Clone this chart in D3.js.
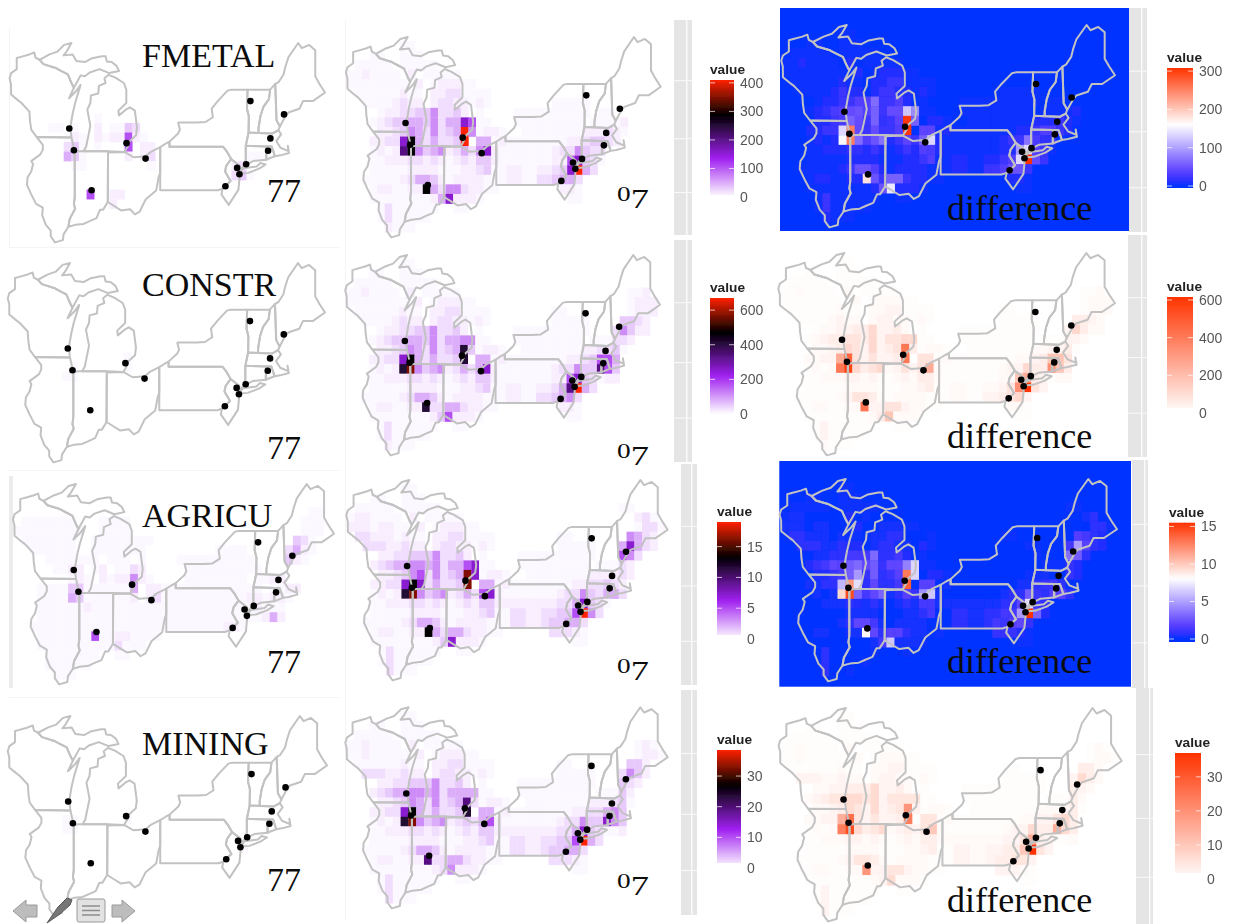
<!DOCTYPE html>
<html>
<head>
<meta charset="utf-8">
<script src="https://d3js.org/d3.v7.min.js"></script>
<style>
  html, body { margin: 0; padding: 0; background: #fff; }
  svg { display: block; }
</style>
</head>
<body>
<div id="chart"></div>
<script>
// Grid is 0.625 x 0.5 degrees. Each string is one row from north to south, one char per cell.
// Chars are shade levels, levelShare turns them into a share of the panel's maximum.
const levelShare = { ".": 0, "1": .01, "2": .025, "3": .05, "4": .08, "5": .12, "6": .17, "7": .26, "8": .38, "9": .5, a: .62, b: .7, c: .85, d: 1 };

const fmetal77 = ["", "", "", "", "", "", "", "",
  "............1",
  "......11.1..2.1143",
  "........121.2122721",
  "........341.1...7.22",
  "........541.....2.23............111",
  ".........11........1..........23",
  "..............................341",
  "",
  "...........7..22",
  "..............2"];
const fmetal07 = ["",
  "........11",
  "....11..111",
  "..11111.11111",
  ".1121111.2.11111",
  ".11111111.2.122211",
  "..111111211.22331111",
  "...11112322.23322121........11111",
  ".....122334463342.1....1111111111.11",
  "....1234455463558711...111111111.11112",
  ".....22346536345d61221..11111111222321",
  "....22338b535334d.5512111111112234432",
  "....12129b6456235368211111112336433",
  "....1122233232123244211111112278431",
  "....111112222111223411221122348d53",
  "...11111235542122221112211334553",
  "....1221122b536632211........221",
  "....111111112582221...........11",
  ".....13111111..11",
  ".....1311111",
  "......2111"];

const constr77 = ["", "", "", "", "", "", "", "", "", "",
  "................1",
  ".........1......1",
  "........11"];
const constr07 = ["",
  "........11",
  "....11..111",
  "..11111.11111",
  ".1121111.2.11111......................112",
  ".11111111.2.122211....................1222",
  "..111111211.22331111........11........1222",
  "...11112322.23322121........11111....4432",
  ".....122334463342.1....1111111111...36422",
  "....1234455463556611...111111111.111332",
  ".....22346536345a41221..11111111223341",
  "....22338b535334a.5512111111112234775",
  "....1212ac645623535821111111233644974",
  "....112223323212324421111111227843122",
  "....111112222111223411221122359d53",
  "...11111235542122221112211334563",
  "....1221122a335532211........221",
  "....111111112472221...........11",
  ".....13111111..11",
  ".....1311111",
  "......2111"];

const agricu77 = ["", "", "",
  ".......................................11",
  "..1111111...1111......................111",
  ".111111111..1111......................111",
  "..1111111..11111111..................431",
  "...111111..1111111.........1111.....3521",
  ".....1111111.111.1....1111111111....421",
  "......1122.12.1132.....1111111111",
  "........121.2122621....11111111.1122",
  "....1111441111115.221111111111111.1122",
  "....1111541111112.2311111111111221221",
  "....11111121111111111111111111112111",
  "....11111111111111111111111111111252",
  "...1111111111111111111111111221",
  "....1111111711221111",
  "....11111111113111",
  ".....1111111..11",
  ".....111111",
  "......111"];
const agricu07 = ["",
  "........11",
  "....11..111",
  "..11111.11111.......................11",
  ".1221111.2.11111......................231",
  ".22212211.2.122211....................1331",
  "..332221211.22331111........11.......6532",
  "...33322322.23322121........11111...58532",
  ".....223344463342.1....1111111111...763",
  "....2345566563557811...111111111.11132",
  ".....22346736345c81221..11111111222232",
  "....22338b835334c.5512111111112233432",
  "....1212ac645623537821111111233643553",
  "....1122233232123244222222223358431",
  "....111112222111223411332233447d63",
  "...11111235542122221113322344553",
  "....1221122b535532211......33321",
  "....111111112482221...........11",
  ".....13111111..11",
  ".....1311111",
  "......3111"];

const mining77 = ["", "", "", "", "", "", "", "", "", "", "",
  "........11......1",
  "........11",
  "",
  "...............................1"];
const mining07 = ["",
  "........11",
  "....11..111",
  "..11111.11111",
  ".1121111.2.11111......................121",
  ".11211111.2.122211....................1221",
  "..111111211.22331111........11.......442",
  "...33322322.23322121........11111...3642",
  ".....223344463342.1....1111111111...432",
  "....2345566563555511...111111111.11142",
  ".....22346536345931221..11111111222341",
  "....22338b535334a.5512111111112233564",
  "....1212ac645623435721111111233644864",
  "....112223323212324422222222335843112",
  "....111112222111223411332233447d53",
  "...11111235542122221113322344553",
  "....12211229335532211......33321",
  "....111111112362221...........11",
  ".....13111111..11",
  ".....1311111",
  "......3111"];

// top of each colour bar
const maxValues07 = [410, 670, 19, 38.5];
const maxValuesDiff = [308, 616, 15.5, 37];
const ticks07 = [[0, 100, 200, 300, 400], [0, 200, 400, 600], [0, 5, 10, 15], [0, 10, 20, 30]];
const ticksDiff = [[0, 100, 200, 300], [0, 200, 400, 600], [0, 5, 10, 15], [0, 10, 20, 30]];
const sectorNames = ["FMETAL", "CONSTR", "AGRICU", "MINING"];
const diffOnBlue = [true, false, true, false];

// lon, lat
const cities = [[-87.98, 42.96], [-87.6, 41.82], [-83.28, 42.19], [-81.72, 41.38], [-86.15, 39.72], [-73.12, 44.4],
  [-70.36, 43.7], [-71.48, 42.44], [-71.67, 41.79], [-73.47, 41.08], [-74.21, 40.89], [-74.02, 40.56], [-75.17, 39.93]];

const wisconsin = [[-92.02, 46.71], [-92.29, 46.66], [-92.29, 46.08], [-92.75, 45.87], [-92.88, 45.6], [-92.76, 45.3], [-92.75, 44.75], [-92.2, 44.45], [-91.9, 44.3], [-91.25, 43.85], [-91.2, 43.35], [-91.1, 42.9], [-90.65, 42.51], [-87.8, 42.49], [-87.9, 43.0], [-87.7, 43.75], [-87.5, 44.3], [-87.05, 45.25], [-87.45, 44.9], [-88.0, 44.55], [-87.6, 45.1], [-87.8, 45.35], [-88.1, 45.8], [-88.7, 46.0], [-89.1, 46.14], [-90.1, 46.34], [-90.42, 46.57], [-90.75, 46.68], [-90.85, 46.95], [-91.25, 46.85]];
const michiganUpper = [[-90.42, 46.57], [-89.6, 46.85], [-88.95, 47.0], [-88.4, 47.35], [-87.8, 47.45], [-88.2, 47.0], [-88.45, 46.8], [-87.7, 46.85], [-87.4, 46.5], [-86.7, 46.45], [-86.1, 46.65], [-85.3, 46.75], [-85.0, 46.75], [-84.9, 46.48], [-84.5, 46.45], [-84.1, 46.25], [-83.9, 45.98], [-84.7, 45.87], [-85.5, 46.08], [-86.3, 45.9], [-86.7, 45.7], [-87.05, 45.75], [-87.6, 45.1], [-87.8, 45.35], [-88.1, 45.8], [-88.7, 46.0], [-89.1, 46.14], [-90.1, 46.34]];
const michiganLower = [[-84.75, 45.78], [-85.1, 45.6], [-85.0, 45.35], [-85.55, 45.2], [-85.6, 44.8], [-86.2, 44.7], [-86.25, 44.3], [-86.5, 43.95], [-86.25, 43.1], [-86.6, 42.0], [-86.82, 41.76], [-84.8, 41.76], [-83.45, 41.73], [-83.15, 42.05], [-83.1, 42.25], [-82.5, 42.6], [-82.42, 43.0], [-82.6, 43.9], [-83.0, 44.07], [-83.35, 43.95], [-83.9, 43.65], [-83.95, 43.9], [-83.3, 44.3], [-83.3, 45.0], [-83.5, 45.35], [-84.2, 45.63]];
const illinois = [[-90.65, 42.51], [-87.8, 42.49], [-87.53, 41.71], [-87.53, 39.35], [-87.6, 39.0], [-87.5, 38.75], [-87.95, 38.2], [-88.05, 37.8], [-88.45, 37.4], [-88.5, 37.1], [-89.15, 36.98], [-89.5, 37.3], [-89.5, 37.6], [-89.9, 37.9], [-90.2, 38.4], [-90.15, 38.8], [-90.7, 39.0], [-91.1, 39.5], [-91.45, 40.0], [-91.4, 40.4], [-91.1, 40.7], [-90.95, 41.1], [-91.1, 41.25], [-90.35, 41.6], [-90.15, 41.85], [-90.15, 42.1]];
const indiana = [[-87.53, 41.71], [-87.2, 41.76], [-86.82, 41.76], [-84.8, 41.76], [-84.82, 39.1], [-85.2, 38.7], [-85.45, 38.7], [-85.75, 38.25], [-86.3, 38.1], [-86.8, 37.95], [-87.5, 37.9], [-88.05, 37.8], [-87.95, 38.2], [-87.5, 38.75], [-87.6, 39.0], [-87.53, 39.35]];
const ohio = [[-84.8, 41.7], [-83.45, 41.73], [-82.7, 41.45], [-81.7, 41.5], [-81.25, 41.75], [-80.52, 41.98], [-80.52, 40.64], [-80.65, 40.4], [-80.85, 39.7], [-81.7, 39.25], [-82.2, 38.6], [-82.6, 38.45], [-83.0, 38.72], [-83.7, 38.65], [-84.2, 38.85], [-84.82, 39.1]];
const pennsylvania = [[-80.52, 41.98], [-80.08, 42.16], [-79.76, 42.27], [-79.76, 42.0], [-75.35, 42.0], [-75.05, 41.75], [-74.7, 41.36], [-75.1, 41.0], [-75.2, 40.7], [-74.75, 40.2], [-75.4, 39.8], [-75.8, 39.72], [-80.52, 39.72]];
const newYork = [[-79.76, 42.27], [-79.05, 42.7], [-78.9, 42.9], [-79.05, 43.27], [-77.5, 43.27], [-76.8, 43.3], [-76.2, 43.55], [-76.3, 44.0], [-75.8, 44.4], [-75.0, 44.95], [-74.7, 45.0], [-73.35, 45.0], [-73.4, 44.0], [-73.25, 43.6], [-73.27, 42.75], [-73.5, 42.05], [-73.5, 41.3], [-73.65, 41.0], [-74.0, 40.75], [-74.0, 41.0], [-74.7, 41.36], [-75.05, 41.75], [-75.35, 42.0], [-79.76, 42.0]];
const longIsland = [[-74.0, 40.6], [-73.7, 40.87], [-72.6, 40.97], [-72.3, 41.15], [-71.87, 41.07], [-72.4, 40.85], [-73.3, 40.63]];
const vermont = [[-73.35, 45.0], [-71.5, 45.0], [-71.6, 44.5], [-72.05, 44.1], [-72.3, 43.6], [-72.45, 43.0], [-72.46, 42.73], [-73.27, 42.75], [-73.25, 43.6], [-73.4, 44.0]];
const newHampshire = [[-71.5, 45.0], [-71.08, 45.3], [-70.98, 43.4], [-70.7, 43.07], [-70.82, 42.87], [-71.3, 42.7], [-72.46, 42.73], [-72.45, 43.0], [-72.3, 43.6], [-72.05, 44.1], [-71.6, 44.5]];
const maine = [[-71.08, 45.3], [-70.8, 45.4], [-70.4, 45.8], [-70.25, 46.2], [-70.0, 46.7], [-69.2, 47.45], [-68.9, 47.18], [-68.3, 47.35], [-67.8, 47.07], [-67.8, 45.7], [-67.45, 45.3], [-67.0, 44.85], [-68.0, 44.4], [-68.8, 44.4], [-69.1, 44.0], [-70.0, 43.8], [-70.25, 43.6], [-70.7, 43.07], [-70.98, 43.4]];
const massachusetts = [[-73.5, 42.05], [-73.27, 42.75], [-71.3, 42.7], [-70.82, 42.87], [-70.6, 42.65], [-71.0, 42.3], [-70.65, 41.95], [-70.0, 41.77], [-70.05, 42.05], [-69.95, 41.67], [-70.65, 41.55], [-71.12, 41.5], [-71.2, 41.7], [-71.38, 42.02], [-71.8, 42.02]];
const connecticut = [[-73.5, 42.05], [-71.8, 42.02], [-71.8, 41.32], [-72.9, 41.25], [-73.65, 41.0], [-73.5, 41.3]];
const rhodeIsland = [[-71.8, 42.02], [-71.38, 42.02], [-71.12, 41.5], [-71.85, 41.32]];
const newJersey = [[-74.7, 41.36], [-74.0, 41.0], [-74.0, 40.45], [-74.1, 39.75], [-74.9, 38.95], [-75.5, 39.5], [-75.4, 39.8], [-74.75, 40.2], [-75.2, 40.7], [-75.1, 41.0]];
const states = [wisconsin, michiganUpper, michiganLower, illinois, indiana, ohio, pennsylvania, newYork, longIsland, vermont, newHampshire, maine, massachusetts, connecticut, rhodeIsland, newJersey];

// Screen boxes of the maps: x west, x east, y north, y south, one row per sector
const mapBoxes = [
  [[9.3, 325, 43, 242], [345.7, 660.7, 37, 237], [781, 1115, 25, 227]],
  [[7.5, 325, 263, 462], [345, 660, 255, 455], [778, 1115, 253, 455]],
  [[12.7, 334, 484, 684], [346, 667.7, 480, 680], [779.3, 1117, 479, 681]],
  [[7.5, 327, 716, 915], [345, 667.7, 707.3, 908], [778.3, 1121.7, 708, 921]]
];
// x, bar top, bar bottom, y of zero label, bar width
const legends07 = [[710, 80, 195, 197, 24], [710, 298, 415, 414, 24], [717, 522, 635, 639, 24], [717, 750, 863, 868, 24]];
const legendsDiff = [[1167, 68, 188, 186, 26], [1167, 297, 408, 413, 26], [1169, 522.7, 642, 639, 26], [1175, 753, 873, 879, 26]];
const blueBoxes = [[780, 8, 349, 223], null, [779.3, 461, 351.7, 225.7], null];
const strips = [[674, 20, 18, 215, 686], [674, 240, 18, 222, 686], [681, 464, 16, 221, 691], [681, 690, 16, 225, 691],
  [1129, 8, 18, 224, 1141], [1128, 235, 19, 222, 1141], [1132, 460, 16, 228, 1144], [1136, 688, 17, 236, 1149]];
const titleBaselines = [67, 296, 527, 755];
const pastBaselines = [202, 459, 673, 891];
const nowBaselines = [201, 458, 673, 888];
const diffBaselines = [220, 448, 673, 912];

const purpleRamp = share => d3.scaleLinear().domain([0, .33, .7, 1]).range(["#ffffff", "#a020f0", "#000000", "#ff2200"])(share);
const blueRamp = share => d3.scaleLinear().domain([0, .04, .12, .3, .52, 1]).range(["#0033ff", "#2a2eff", "#5a40ff", "#a595ff", "#ffffff", "#ff3300"])(share);
const whiteRamp = share => d3.scaleLinear().domain([0, 1]).range(["#ffffff", "#ff3300"])(share);

const svg = d3.select("#chart").append("svg").attr("width", 1236).attr("height", 924);
const defs = svg.append("defs");
defs.append("filter").attr("id", "soft").attr("filterUnits", "userSpaceOnUse")
  .attr("x", 0).attr("y", 0).attr("width", 1236).attr("height", 924)
  .append("feGaussianBlur").attr("stdDeviation", 0.65);
defs.append("filter").attr("id", "softer").attr("filterUnits", "userSpaceOnUse")
  .attr("x", 0).attr("y", 0).attr("width", 1236).attr("height", 924)
  .append("feGaussianBlur").attr("stdDeviation", 0.35);

// pale panel leftovers and grey strips of the screenshots
strips.forEach(s => {
  const g = svg.append("g");
  g.append("rect").attr("x", s[0]).attr("y", s[1]).attr("width", s[2]).attr("height", s[3]).attr("fill", "#e5e5e5");
  g.append("rect").attr("x", s[4]).attr("y", s[1]).attr("width", 1.5).attr("height", s[3]).attr("fill", "#fafafa");
  [.28, .55, .8].forEach(f => {
    g.append("rect").attr("x", s[0]).attr("y", s[1] + s[3] * f).attr("width", s[2]).attr("height", 1).attr("fill", "#fafafa");
  });
});
svg.append("rect").attr("x", 9).attr("y", 476).attr("width", 4).attr("height", 212).attr("fill", "#ececec");
svg.append("rect").attr("x", 9).attr("y", 28).attr("width", 1).attr("height", 218).attr("fill", "#f4f4f4");
svg.append("rect").attr("x", 9).attr("y", 247).attr("width", 330).attr("height", 1).attr("fill", "#f4f4f4");
svg.append("rect").attr("x", 9).attr("y", 470).attr("width", 330).attr("height", 1).attr("fill", "#f4f4f4");
svg.append("rect").attr("x", 9).attr("y", 697).attr("width", 330).attr("height", 1).attr("fill", "#f4f4f4");
svg.append("rect").attr("x", 345).attr("y", 20).attr("width", 1).attr("height", 900).attr("fill", "#f4f4f4");

function cellsOf(rows) {
  const cells = [];
  rows.forEach((row, r) => {
    row.split("").forEach((ch, c) => {
      if (ch !== ".") cells.push({ c, r, share: levelShare[ch] });
    });
  });
  return cells;
}

function drawMap(box, cells, colour) {
  const x = d3.scaleLinear().domain([-92.9, -67.0]).range([box[0], box[1]]);
  const y = d3.scaleLinear().domain([47.45, 37.0]).range([box[2], box[3]]);
  const lonEdge = c => -93.4375 + c * 0.625;
  const latEdge = r => 47.75 - r * 0.5;
  const line = d3.line().x(d => x(d[0])).y(d => y(d[1])).curve(d3.curveLinearClosed);

  const g = svg.append("g").attr("filter", "url(#soft)");
  g.selectAll("rect.cell").data(cells).join("rect")
    .attr("class", "cell")
    .attr("x", d => x(lonEdge(d.c)))
    .attr("y", d => y(latEdge(d.r)))
    .attr("width", d => x(lonEdge(d.c + 1)) - x(lonEdge(d.c)) + 0.3)
    .attr("height", d => y(latEdge(d.r + 1)) - y(latEdge(d.r)) + 0.3)
    .attr("fill", d => colour(d.value));
  g.selectAll("path").data(states).join("path")
    .attr("d", line)
    .attr("fill", "none")
    .attr("stroke", "#c2c2c2")
    .attr("stroke-width", 2)
    .attr("stroke-linejoin", "round");
  svg.append("g").attr("filter", "url(#softer)")
    .selectAll("circle").data(cities).join("circle")
    .attr("cx", d => x(d[0]))
    .attr("cy", d => y(d[1]))
    .attr("r", 3.3)
    .attr("fill", "#000");
}

function drawLegend(conf, maxValue, ticks, ramp, id) {
  const [bx, top, bottom, zero, width] = conf;
  const scale = d3.scaleLinear().domain([0, maxValue]).range([zero, top]);
  const grad = defs.append("linearGradient").attr("id", id).attr("x1", 0).attr("x2", 0).attr("y1", 0).attr("y2", 1);
  d3.range(0, 41).forEach(i => {
    const yy = top + (bottom - top) * i / 40;
    grad.append("stop").attr("offset", i / 40).attr("stop-color", ramp(Math.max(0, scale.invert(yy)) / maxValue));
  });
  const g = svg.append("g").attr("filter", "url(#softer)");
  g.append("rect").attr("x", bx).attr("y", top).attr("width", width).attr("height", bottom - top).attr("fill", `url(#${id})`);
  ticks.forEach(t => {
    g.append("line").attr("x1", bx).attr("x2", bx + 5).attr("y1", scale(t)).attr("y2", scale(t)).attr("stroke", "#fff").attr("opacity", 0.7);
    g.append("line").attr("x1", bx + width - 5).attr("x2", bx + width).attr("y1", scale(t)).attr("y2", scale(t)).attr("stroke", "#fff").attr("opacity", 0.7);
  });
  g.append("text").attr("x", bx).attr("y", top - 6)
    .attr("font-family", "Liberation Sans").attr("font-weight", "bold").attr("font-size", 13.7).attr("fill", "#222")
    .text("value");
  const axis = g.append("g").attr("transform", `translate(${bx + width},0)`)
    .call(d3.axisRight(scale).tickValues(ticks).tickSize(0).tickPadding(6));
  axis.select(".domain").remove();
  axis.selectAll("text").attr("font-family", "Liberation Sans").attr("font-size", 14).attr("fill", "#555");
}

function serifLabel(x, y, size, label) {
  return svg.append("text").attr("x", x).attr("y", y)
    .attr("font-family", "Liberation Serif").attr("font-size", size).attr("fill", "#0c0c0c")
    .text(label);
}

const pastGrids = [fmetal77, constr77, agricu77, mining77];
const nowGrids = [fmetal07, constr07, agricu07, mining07];

sectorNames.forEach((name, i) => {
  const maxNow = maxValues07[i];
  const past = cellsOf(pastGrids[i]);
  const now = cellsOf(nowGrids[i]);
  past.forEach(d => { d.value = d.share * maxNow; });
  now.forEach(d => { d.value = d.share * maxNow; });

  // difference = 07 minus 77, cell by cell
  const pastByCell = new Map(past.map(d => [d.c + "," + d.r, d.value]));
  const diff = now.map(d => ({ c: d.c, r: d.r, value: Math.max(0, d.value - (pastByCell.get(d.c + "," + d.r) || 0)) }));

  const nowColour = v => purpleRamp(v / maxNow);
  const diffRamp = diffOnBlue[i] ? blueRamp : whiteRamp;
  const diffColour = v => diffRamp(Math.min(1, v / maxValuesDiff[i]));

  if (blueBoxes[i]) {
    const b = blueBoxes[i];
    svg.append("rect").attr("x", b[0]).attr("y", b[1]).attr("width", b[2]).attr("height", b[3]).attr("fill", "#0033ff");
  }
  drawMap(mapBoxes[i][0], past, nowColour);
  drawMap(mapBoxes[i][1], now, nowColour);
  drawMap(mapBoxes[i][2], diff, diffColour);
  drawLegend(legends07[i], maxNow, ticks07[i], purpleRamp, "bar07" + i);
  drawLegend(legendsDiff[i], maxValuesDiff[i], ticksDiff[i], diffRamp, "barDiff" + i);

  serifLabel(142, titleBaselines[i], 34, name);
  serifLabel(267, pastBaselines[i], 34, "77");
  // old style figures: round low zero, seven hanging below the line
  const nowText = svg.append("text").attr("transform", `translate(617,${nowBaselines[i]}) scale(1.3,1)`)
    .attr("font-family", "Liberation Serif").attr("fill", "#0c0c0c");
  nowText.append("tspan").attr("font-size", 21).text("0");
  nowText.append("tspan").attr("font-size", 28).attr("dy", 7).text("7");
  serifLabel(947, diffBaselines[i], 36, "difference");
});

// slide viewer buttons, bottom left
const nav = svg.append("g").attr("filter", "url(#softer)").attr("fill", "#bdbdbd").attr("stroke", "#9a9a9a");
nav.append("path").attr("d", "M13,911 L26,900 L26,905 L37,905 L37,917 L26,917 L26,922 Z");
nav.append("path").attr("d", "M135,911 L122,900 L122,905 L112,905 L112,917 L122,917 L122,922 Z");
nav.append("rect").attr("x", 77).attr("y", 899).attr("width", 28).attr("height", 23).attr("rx", 2).attr("fill", "#e2e2e2");
[906, 910.5, 915].forEach(yy => {
  nav.append("line").attr("x1", 82).attr("x2", 100).attr("y1", yy).attr("y2", yy).attr("stroke", "#8c8c8c").attr("stroke-width", 1.5);
});
nav.append("path").attr("d", "M47,923 L58,907 L67,898 L72,900 L70,905 L60,914 Z").attr("fill", "#777").attr("stroke", "#555");
</script>
</body>
</html>
